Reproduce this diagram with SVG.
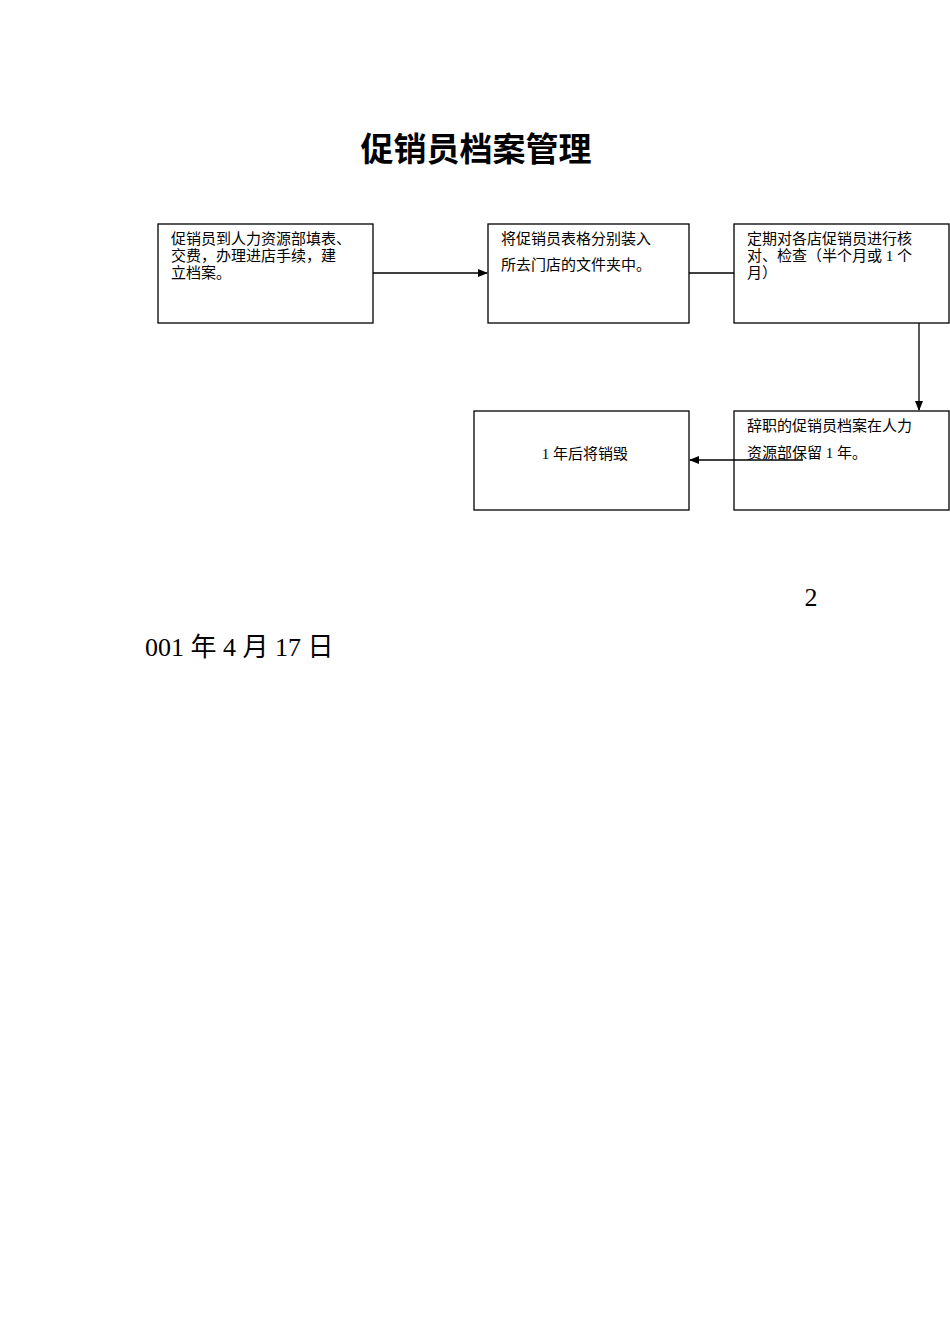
<svg xmlns="http://www.w3.org/2000/svg" width="950" height="1344" viewBox="0 0 950 1344">
<style>
.b{fill:#fff;stroke:#000;stroke-width:1.3}
.t{font-family:"Liberation Serif","Noto Sans CJK SC",serif;font-size:15px;fill:#000}
.c{stroke:#000;stroke-width:1.3;fill:none}
</style>
<defs><marker id="a" markerWidth="10" markerHeight="8" refX="9" refY="4" orient="auto" markerUnits="userSpaceOnUse"><path d="M0,0L10,4L0,8z"/></marker></defs>
<rect width="950" height="1344" fill="#fff"/>
<text x="476" y="161" text-anchor="middle" style="font-family:'Noto Sans CJK SC',sans-serif;font-size:33px;font-weight:bold">促销员档案管理</text>
<g id="n1"><rect class="b" x="158" y="224" width="215" height="99"/>
<text class="t"><tspan x="171" y="244">促销员到人力资源部填表、</tspan><tspan x="171" y="261">交费，办理进店手续，建</tspan><tspan x="171" y="278">立档案。</tspan></text></g>
<g id="n2"><rect class="b" x="488" y="224" width="201" height="99"/>
<text class="t"><tspan x="501" y="244">将促销员表格分别装入</tspan><tspan x="501" y="270">所去门店的文件夹中。</tspan></text></g>
<g id="n3"><rect class="b" x="734" y="224" width="215" height="99"/>
<text class="t"><tspan x="747" y="244">定期对各店促销员进行核</tspan><tspan x="747" y="261">对、检查（半个月或 1 个</tspan><tspan x="747" y="278">月）</tspan></text></g>
<g id="n4"><rect class="b" x="734" y="411" width="215" height="99"/>
<text class="t"><tspan x="747" y="431">辞职的促销员档案在人力</tspan><tspan x="747" y="458">资源部保留 1 年。</tspan></text></g>
<g id="n5"><rect class="b" x="474" y="411" width="215" height="99"/>
<text class="t" x="585" y="459" text-anchor="middle">1 年后将销毁</text></g>
<g id="connectors">
<line class="c" x1="373" y1="273" x2="487" y2="273" marker-end="url(#a)"/>
<line class="c" x1="689" y1="273" x2="734" y2="273"/>
<line class="c" x1="919" y1="323" x2="919" y2="410" marker-end="url(#a)"/>
<line class="c" x1="803" y1="460" x2="690" y2="460" marker-end="url(#a)"/>
</g>
<text x="811" y="606" text-anchor="middle" style="font-family:'Liberation Serif','Noto Sans CJK SC',serif;font-size:26px">2</text>
<text x="145" y="656" style="font-family:'Liberation Serif','Noto Sans CJK SC',serif;font-size:26px">001 年 4 月 17 日</text>
</svg>
